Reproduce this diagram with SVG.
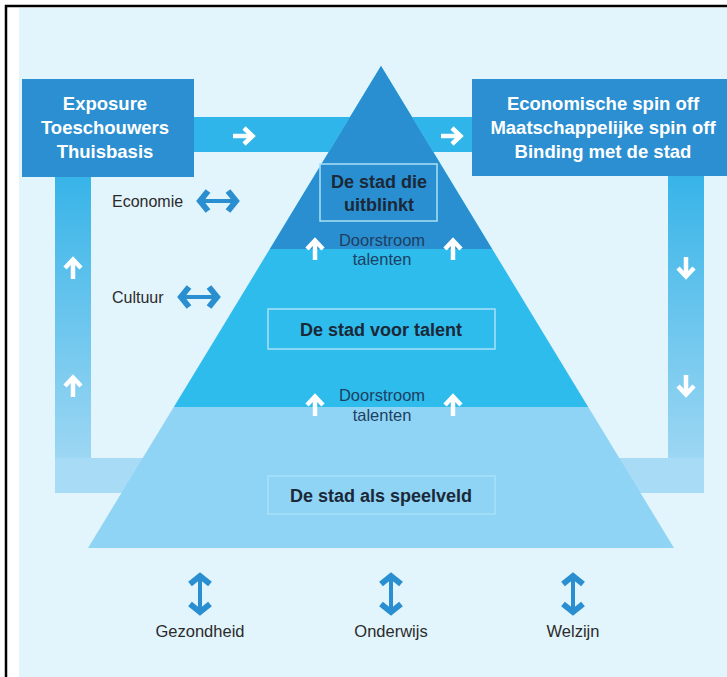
<svg xmlns="http://www.w3.org/2000/svg" width="727" height="677" viewBox="0 0 727 677">
  <defs>
    <style>
      .boxtxt { font-family: "Liberation Sans", Arial, sans-serif; font-weight: bold; font-size: 18.5px; fill: #ffffff; text-anchor: middle; }
      .lvl { font-family: "Liberation Sans", Arial, sans-serif; font-weight: bold; font-size: 18px; fill: #1b2838; text-anchor: middle; }
      .flow { font-family: "Liberation Sans", Arial, sans-serif; font-size: 16.5px; fill: #1d3f63; text-anchor: middle; }
      .lbl { font-family: "Liberation Sans", Arial, sans-serif; font-size: 16px; fill: #2b2b2b; }
      .lblc { font-family: "Liberation Sans", Arial, sans-serif; font-size: 16.5px; fill: #2b2b2b; text-anchor: middle; }
      .lvlbox { fill: none; stroke: #a9e1f7; stroke-width: 1.5; }
      .warrow { fill: none; stroke: #ffffff; stroke-width: 4.5; stroke-linejoin: miter; stroke-linecap: butt; }
      .barrow { fill: none; stroke: #2a8fd0; stroke-linejoin: miter; stroke-linecap: butt; }
    </style>
    <linearGradient id="vband" x1="0" y1="0" x2="0" y2="1">
      <stop offset="0" stop-color="#35b3e8"/>
      <stop offset="1" stop-color="#a9dbf4"/>
    </linearGradient>
    <g id="up">
      <path class="warrow" d="M0,11 L0,-8"/>
      <path class="warrow" d="M-8,0 L0,-8.5 L8,0"/>
    </g>
    <g id="dbl">
      <path class="barrow" stroke-width="4" d="M-16,0 L16,0"/>
      <path class="barrow" stroke-width="6" d="M-10,-10 L-18,0 L-10,10 M10,-10 L18,0 L10,10"/>
    </g>
  </defs>

  <!-- frame and background -->
  <rect x="0" y="0" width="727" height="677" fill="#ffffff"/>
  <path d="M6,677 L6,6 L727,6" fill="none" stroke="#000000" stroke-width="2.5"/>
  <rect x="19" y="8" width="708" height="669" fill="#e2f4fc"/>

  <!-- connectors: bands and flow arrows -->
  <g id="connectors">
    <rect x="190" y="117" width="290" height="35" fill="#2fb5e9"/>
    <rect x="55" y="170" width="36" height="323" fill="url(#vband)"/>
    <rect x="668" y="170" width="36" height="323" fill="url(#vband)"/>
    <rect x="55" y="458" width="649" height="35" fill="#a8dbf5"/>
    <use href="#up" transform="translate(244,136) rotate(90)"/>
    <use href="#up" transform="translate(452,136) rotate(90)"/>
    <use href="#up" transform="translate(73,268)"/>
    <use href="#up" transform="translate(73,386)"/>
    <use href="#up" transform="translate(686,268) rotate(180)"/>
    <use href="#up" transform="translate(686,386) rotate(180)"/>
  </g>

  <!-- pyramid -->
  <g id="pyramid">
    <polygon points="381,66 88,548 674,548" fill="#8fd4f4"/>
    <polygon points="381,66 174,407 588,407" fill="#2dbcec"/>
    <polygon points="381,66 270,249 492,249" fill="#2a8fd0"/>
  </g>

  <g id="node-uitblinkt">
    <rect class="lvlbox" x="320" y="164" width="117" height="57"/>
    <text class="lvl" x="379" y="188">De stad die</text>
    <text class="lvl" x="379" y="211">uitblinkt</text>
  </g>
  <g id="node-talent">
    <rect class="lvlbox" x="268" y="309" width="227" height="40"/>
    <text class="lvl" x="381" y="336">De stad voor talent</text>
  </g>
  <g id="node-speelveld">
    <rect class="lvlbox" x="268" y="476" width="227" height="38"/>
    <text class="lvl" x="381" y="502">De stad als speelveld</text>
  </g>

  <g id="doorstroom-1">
    <use href="#up" transform="translate(315,249)"/>
    <use href="#up" transform="translate(453,249)"/>
    <text class="flow" x="382" y="246">Doorstroom</text>
    <text class="flow" x="382" y="265">talenten</text>
  </g>
  <g id="doorstroom-2">
    <use href="#up" transform="translate(315,405)"/>
    <use href="#up" transform="translate(453,405)"/>
    <text class="flow" x="382" y="401">Doorstroom</text>
    <text class="flow" x="382" y="421">talenten</text>
  </g>

  <g id="node-exposure">
    <rect x="22" y="79" width="172" height="98" fill="#2b8fd1"/>
    <text class="boxtxt" x="105" y="110">Exposure</text>
    <text class="boxtxt" x="105" y="134">Toeschouwers</text>
    <text class="boxtxt" x="105" y="158">Thuisbasis</text>
  </g>
  <g id="node-spinoff">
    <rect x="472" y="79" width="255" height="97" fill="#2b8fd1"/>
    <text class="boxtxt" x="603" y="110">Economische spin off</text>
    <text class="boxtxt" x="603" y="134">Maatschappelijke spin off</text>
    <text class="boxtxt" x="603" y="158">Binding met de stad</text>
  </g>

  <g id="node-economie">
    <text class="lbl" x="112" y="207">Economie</text>
    <use href="#dbl" transform="translate(218,201)"/>
  </g>
  <g id="node-cultuur">
    <text class="lbl" x="112" y="303">Cultuur</text>
    <use href="#dbl" transform="translate(199,297)"/>
  </g>

  <g id="node-gezondheid">
    <use href="#dbl" transform="translate(200,594) rotate(90)"/>
    <text class="lblc" x="200" y="637">Gezondheid</text>
  </g>
  <g id="node-onderwijs">
    <use href="#dbl" transform="translate(391,594) rotate(90)"/>
    <text class="lblc" x="391" y="637">Onderwijs</text>
  </g>
  <g id="node-welzijn">
    <use href="#dbl" transform="translate(573,594) rotate(90)"/>
    <text class="lblc" x="573" y="637">Welzijn</text>
  </g>
</svg>
